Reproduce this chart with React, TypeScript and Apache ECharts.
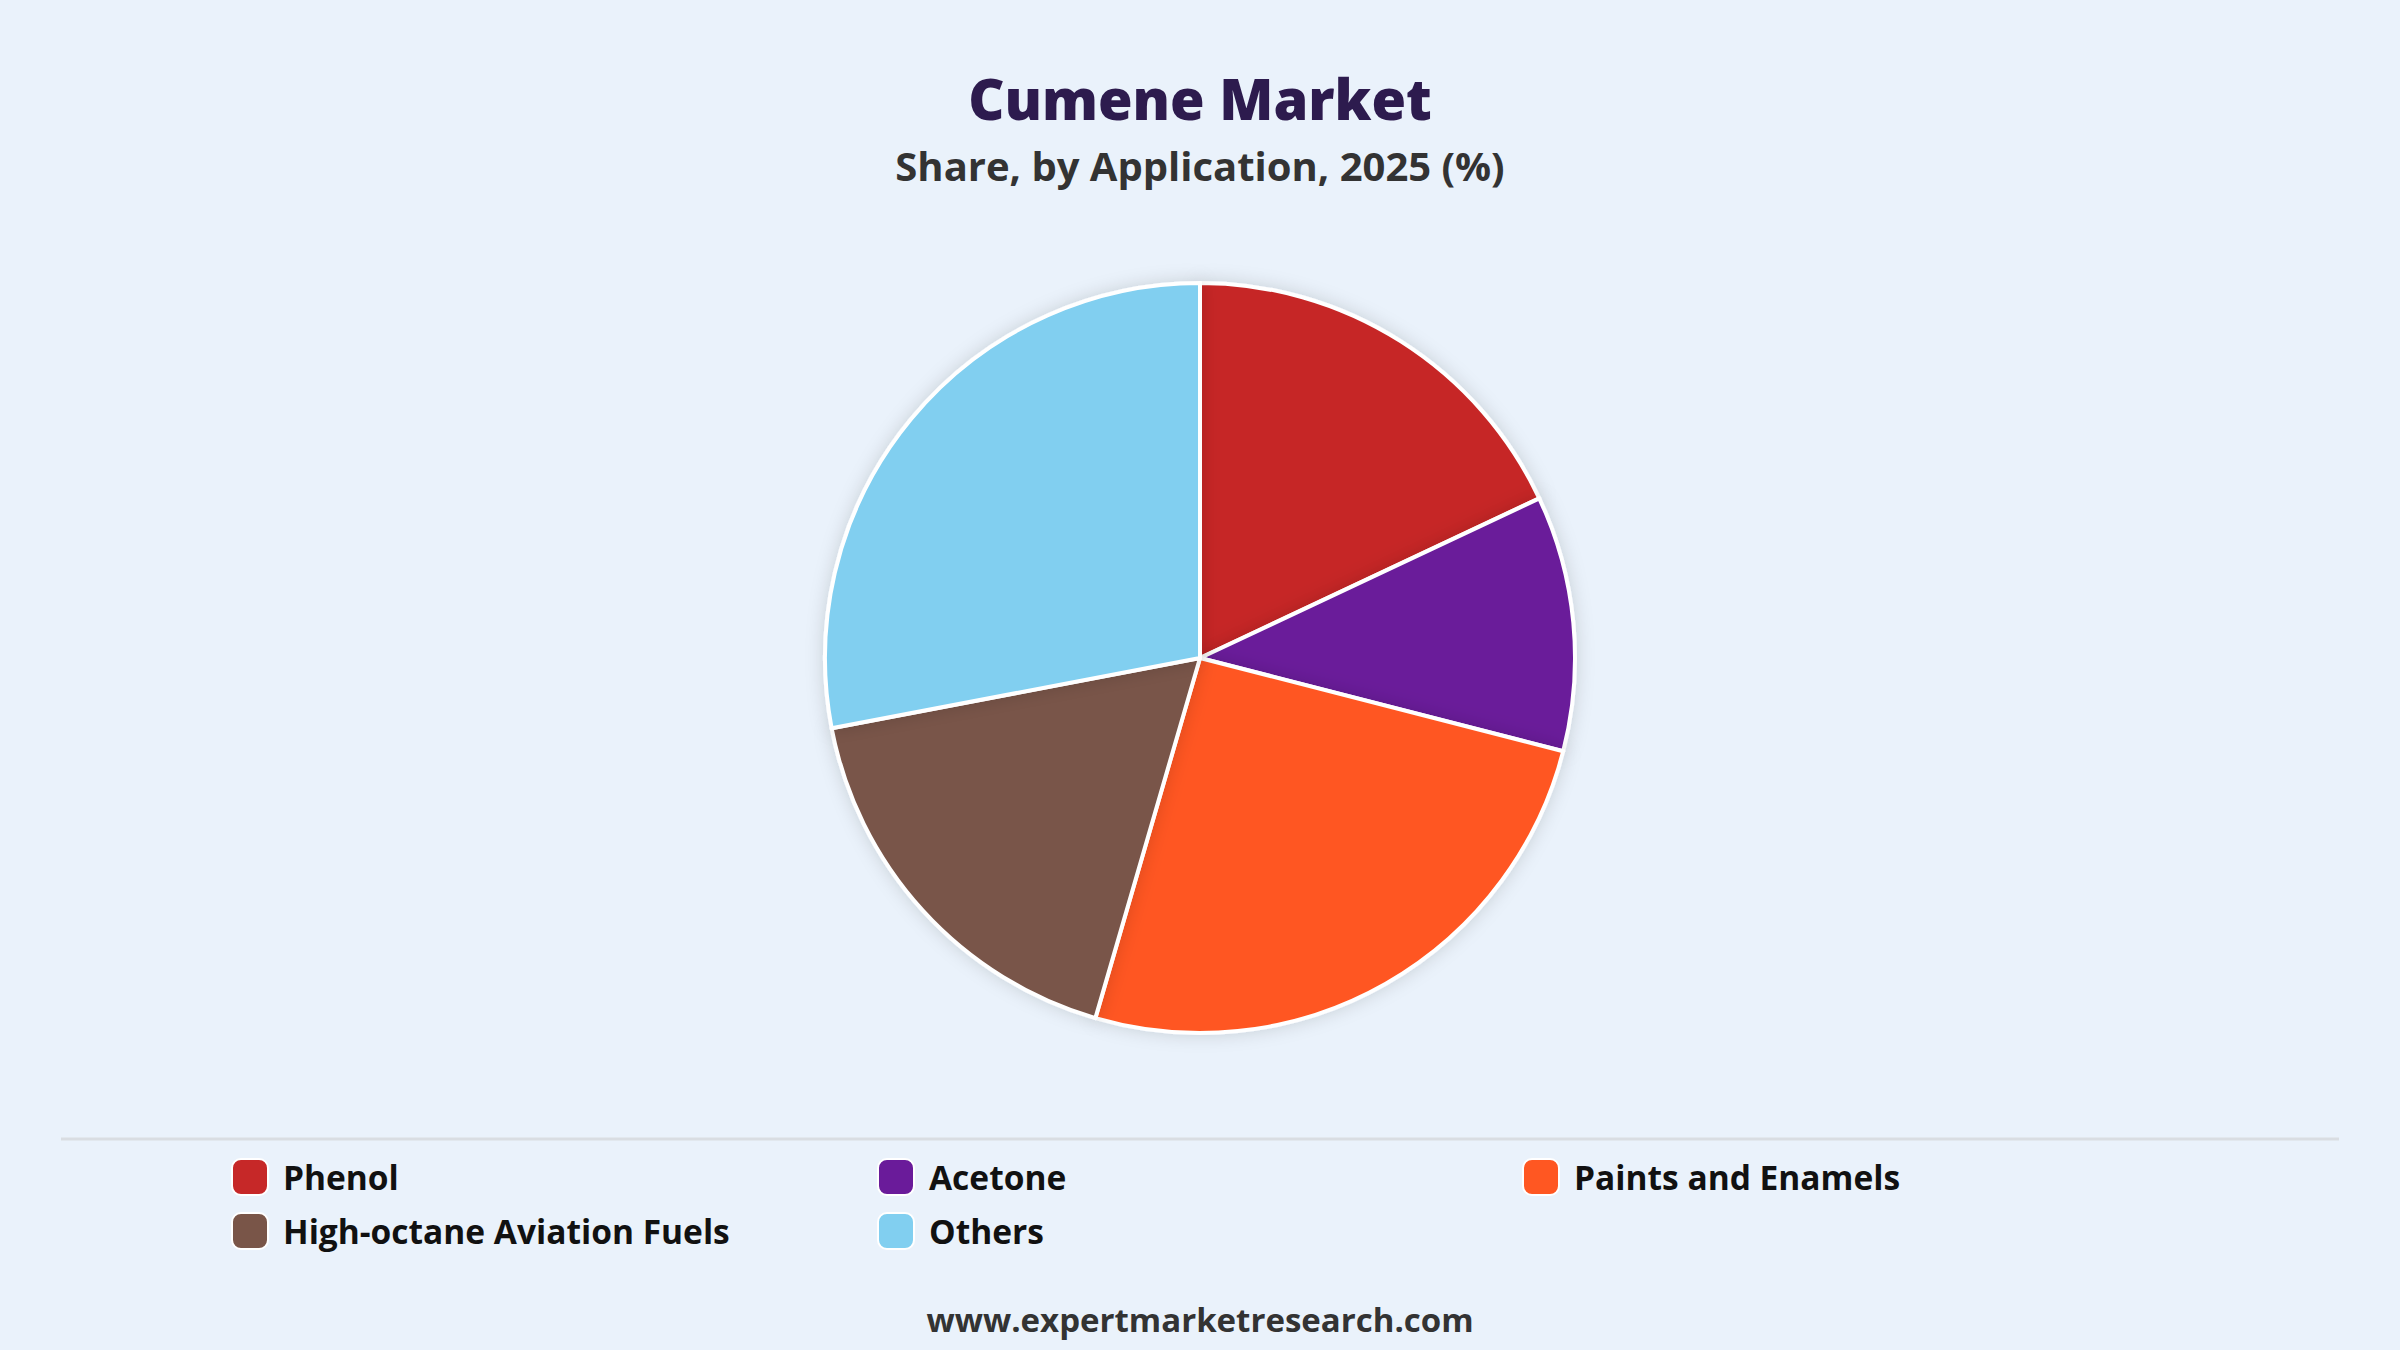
import React, { useEffect, useRef } from "react";
import * as echarts from "echarts";

const categories = ["Phenol", "Acetone", "Paints and Enamels", "High-octane Aviation Fuels", "Others"];
const shares = [18, 11, 25.5, 17.5, 28];
const colors = ["#C62828", "#6A1B9A", "#FF5722", "#795548", "#81CFF0"];
const legendCol1 = ["Phenol", "High-octane Aviation Fuels"];
const legendCol2 = ["Acetone", "Others"];
const legendCol3 = ["Paints and Enamels"];
const titleText = "Cumene Market";
const subtitleText = "Share, by Application, 2025 (%)";
const footerText = "www.expertmarketresearch.com";

const FONT = "'Open Sans', 'Noto Sans', sans-serif";

export default function App() {
  const ref = useRef<HTMLDivElement>(null);
  useEffect(() => {
    document.body.style.margin = "0";
    const chart = echarts.init(ref.current!, null, { renderer: "svg" });
    const legendBase = {
      orient: "vertical" as const,
      top: 1158,
      padding: 0,
      itemWidth: 36,
      itemHeight: 36,
      itemGap: 16,
      icon: "roundRect",
      selectedMode: false,
      textStyle: {
        fontFamily: FONT,
        fontSize: 33.5,
        lineHeight: 36,
        fontWeight: "bold" as const,
        color: "#111111",
        padding: [0, 0, 0, 10],
      },
    };
    chart.setOption({
      animation: false,
      backgroundColor: "#EAF2FB",
      title: [
        {
          text: titleText,
          left: "center",
          top: 68,
          padding: 0,
          textStyle: { fontFamily: FONT, fontSize: 56, fontWeight: 800, color: "#2D1B4E", lineHeight: 60 },
        },
        {
          text: subtitleText,
          left: "center",
          top: 143,
          padding: 0,
          textStyle: { fontFamily: FONT, fontSize: 40, fontWeight: "bold", color: "#333333", lineHeight: 44 },
        },
        {
          text: footerText,
          left: "center",
          top: 1302,
          padding: 0,
          textStyle: { fontFamily: FONT, fontSize: 33, fontWeight: "bold", color: "#333333", lineHeight: 34 },
        },
      ],
      legend: [
        { ...legendBase, left: 231, data: legendCol1 },
        { ...legendBase, left: 877, data: legendCol2 },
        { ...legendBase, left: 1522, data: legendCol3 },
      ],
      graphic: [
        {
          type: "line",
          shape: { x1: 61, y1: 1139, x2: 2339, y2: 1139 },
          style: { stroke: "#D9DDE2", lineWidth: 3 },
          silent: true,
        },
      ],
      series: [
        {
          type: "pie",
          center: [1200, 658],
          radius: [0, 375],
          startAngle: 90,
          clockwise: true,
          label: { show: false },
          labelLine: { show: false },
          silent: true,
          itemStyle: {
            borderColor: "#FFFFFF",
            borderWidth: 4,
            shadowBlur: 18,
            shadowColor: "rgba(0,0,0,0.15)",
          },
          data: categories.map((name, i) => ({
            name,
            value: shares[i],
            itemStyle: { color: colors[i] },
          })),
        },
      ],
    });
    return () => chart.dispose();
  }, []);
  return <div ref={ref} style={{ width: 2400, height: 1350 }} />;
}
